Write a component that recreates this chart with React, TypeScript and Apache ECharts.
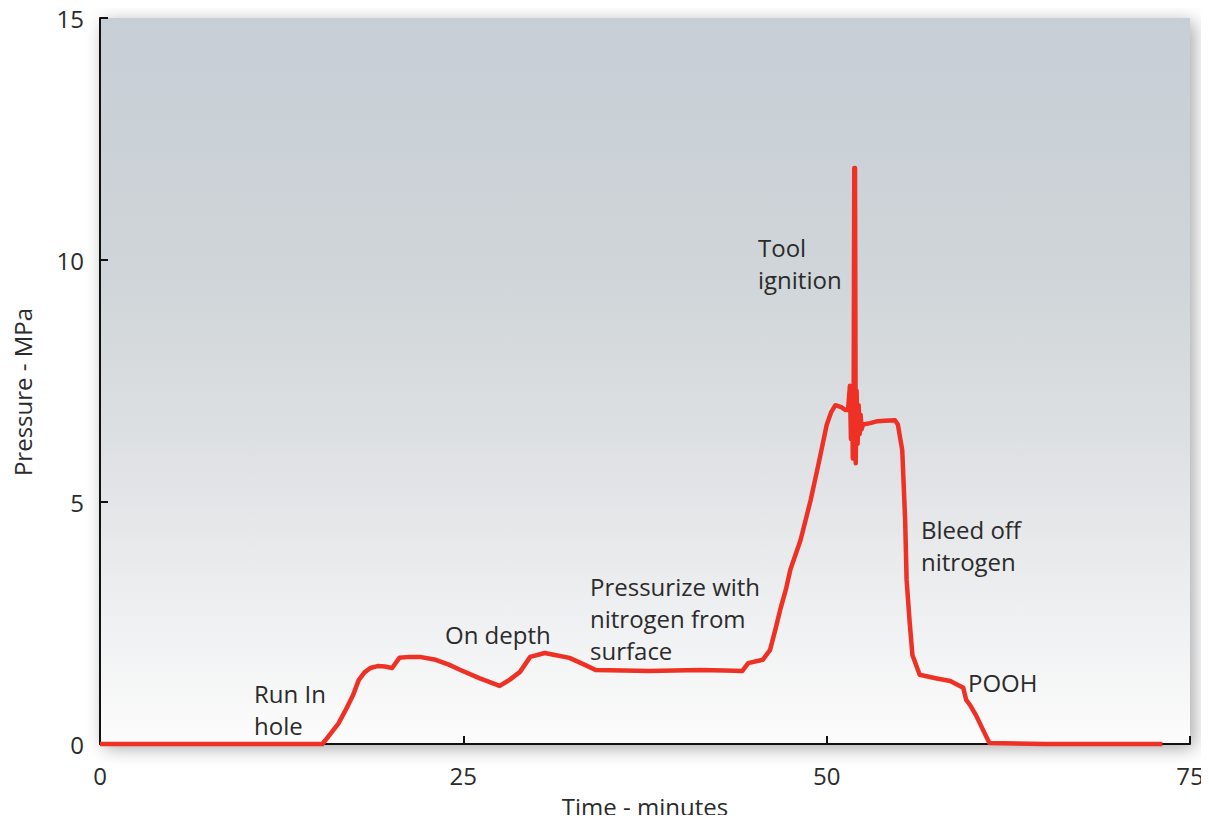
import React, { useEffect, useRef } from "react";
import * as echarts from "echarts";

const timeMin = [
  0, 15.3, 15.8, 16.4, 16.9, 17.4, 17.8, 18.2, 18.6, 19.1, 19.6, 20.1, 20.6, 21.3, 22.0, 23.1, 24.0, 24.8,
  26.1, 27.5, 28.2, 28.9, 29.6, 30.6, 31.3, 32.3, 33.4, 34.1, 36.0, 37.8, 39.5, 41.3, 43.0, 44.2, 44.6,
  45.6, 46.1, 46.5, 46.8, 47.2, 47.5, 48.2, 48.9, 49.5, 50.0, 50.3, 50.6, 51.0, 51.3, 51.47, 51.6, 51.67,
  51.74, 51.8, 51.86, 51.9, 51.95, 52.0, 52.06, 52.13, 52.2, 52.27, 52.34, 52.4, 52.5, 53.0, 53.5, 54.0,
  54.7, 54.9, 55.2, 55.4, 55.5, 55.7, 55.9, 56.4, 57.5, 58.5, 59.4, 59.6, 59.9, 60.3, 60.6, 61.2, 65.0,
  70.0, 73.1,
];

const pressureMPa = [
  0, 0, 0.19, 0.42, 0.7, 1.0, 1.32, 1.48, 1.57, 1.61, 1.6, 1.57, 1.78, 1.8, 1.8, 1.74, 1.64, 1.53,
  1.36, 1.2, 1.33, 1.49, 1.8, 1.88, 1.84, 1.78, 1.63, 1.53, 1.52, 1.51, 1.52, 1.53, 1.52, 1.51, 1.67,
  1.74, 1.94, 2.4, 2.77, 3.2, 3.6, 4.21, 5.04, 5.87, 6.59, 6.85, 7.0, 6.96, 6.9, 6.9, 7.4, 6.3,
  7.3, 5.9, 7.5, 11.9, 11.9, 5.8, 7.3, 6.2, 7.0, 6.4, 6.8, 6.5, 6.6, 6.63, 6.67, 6.68,
  6.69, 6.6, 6.07, 4.63, 3.39, 2.56, 1.84, 1.43, 1.36, 1.3, 1.16, 0.91, 0.79, 0.58, 0.39, 0.02, 0,
  0, 0,
];

const xTicks = [0, 25, 50, 75];
const yTicks = [0, 5, 10, 15];

const annotations = [
  { lines: ["Run In", "hole"], x: 254, y: 693 },
  { lines: ["On depth"], x: 445, y: 634 },
  { lines: ["Pressurize with", "nitrogen from", "surface"], x: 590, y: 586 },
  { lines: ["Tool", "ignition"], x: 758, y: 247 },
  { lines: ["Bleed off", "nitrogen"], x: 921, y: 529 },
  { lines: ["POOH"], x: 968, y: 682 },
];

const FONT = "'Open Sans', 'Noto Sans', sans-serif";
const TEXT_COLOR = "#2b2b2b";

export default function App() {
  const ref = useRef<HTMLDivElement>(null);

  useEffect(() => {
    if (!ref.current) return;
    const chart = echarts.init(ref.current, undefined, { renderer: "svg" });
    const data = timeMin.map((t, i) => [t, pressureMPa[i]]);

    const graphics: any[] = [];
    annotations.forEach((a) => {
      a.lines.forEach((line, i) => {
        graphics.push({
          type: "text",
          x: a.x,
          y: a.y + i * 32,
          z: 10,
          style: {
            text: line,
            fill: TEXT_COLOR,
            font: `24px ${FONT}`,
            align: "left",
            verticalAlign: "middle",
          },
        });
      });
    });

    chart.setOption({
      animation: false,
      grid: {
        left: 100,
        right: 19,
        top: 18,
        bottom: 79,
        containLabel: false,
        outerBoundsMode: "none",
        show: true,
        borderWidth: 0,
        backgroundColor: new echarts.graphic.LinearGradient(0, 0, 0, 1, [
          { offset: 0, color: "#c7ced6" },
          { offset: 0.35, color: "#cfd5d8" },
          { offset: 0.62, color: "#e0e2e5" },
          { offset: 1, color: "#fcfcfc" },
        ]),
        shadowBlur: 18,
        shadowColor: "rgba(0,0,0,0.35)",
        shadowOffsetX: 4,
        shadowOffsetY: 4,
      },
      xAxis: {
        type: "value",
        min: xTicks[0],
        max: xTicks[xTicks.length - 1],
        interval: 25,
        name: "Time - minutes",
        nameLocation: "middle",
        nameGap: 50,
        nameTextStyle: { fontFamily: FONT, fontSize: 24, color: TEXT_COLOR },
        axisLine: { show: true, onZero: false, lineStyle: { color: "#111", width: 2 } },
        axisTick: { show: true, inside: true, length: 8, lineStyle: { color: "#111", width: 2 } },
        axisLabel: { margin: 19, fontFamily: FONT, fontSize: 24, color: TEXT_COLOR },
        splitLine: { show: false },
      },
      yAxis: {
        type: "value",
        min: yTicks[0],
        max: yTicks[yTicks.length - 1],
        interval: 5,
        name: "Pressure - MPa",
        nameLocation: "middle",
        nameGap: 66,
        nameTextStyle: { fontFamily: FONT, fontSize: 24, color: TEXT_COLOR, padding: [0, 22, 0, 0] },
        axisLine: { show: true, onZero: false, lineStyle: { color: "#111", width: 2 } },
        axisTick: { show: true, inside: true, length: 8, lineStyle: { color: "#111", width: 2 } },
        axisLabel: { margin: 16, fontFamily: FONT, fontSize: 24, color: TEXT_COLOR },
        splitLine: { show: false },
      },
      series: [
        {
          type: "line",
          data,
          symbol: "none",
          clip: false,
          z: 5,
          lineStyle: { color: "#ee3124", width: 4.5, join: "round" },
        },
      ],
      graphic: graphics,
    });

    return () => chart.dispose();
  }, []);

  return <div ref={ref} style={{ width: 1209, height: 823, margin: -8 }} />;
}
